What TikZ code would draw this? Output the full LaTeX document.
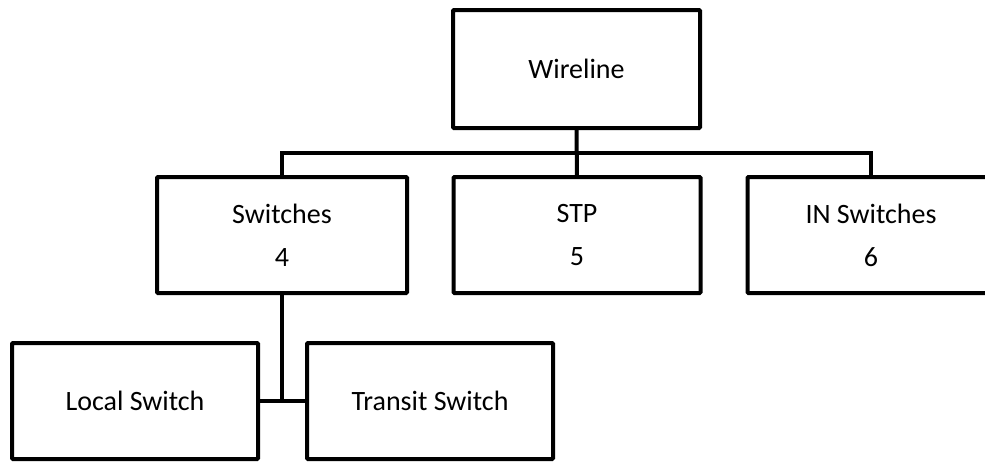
\documentclass[tikz,border=0pt]{standalone}
\usepackage{fontspec}
\setmainfont{Carlito}
\begin{document}
\begin{tikzpicture}[x=1pt,y=1pt,
  orgbox/.style={draw=black, line width=4pt, rounded corners=1pt, fill=white,
    minimum width=247pt, minimum height=116pt, inner sep=0pt, outer sep=0pt,
    align=center, font=\fontsize{28}{43}\selectfont},
  link/.style={draw=black, line width=4pt}]
\useasboundingbox (0,0) rectangle (985,-464);
% top level
\node[orgbox, minimum height=118pt] (wire) at (576.5,-69) {Wireline};
% second level
\node[orgbox, minimum width=250pt] (sw) at (282,-235) {Switches\\4};
\node[orgbox] (stp) at (577,-235) {STP\\5};
\node[orgbox] (insw) at (871,-235) {IN Switches\\6};
% third level
\node[orgbox, minimum width=246pt] (loc) at (135,-401) {Local Switch};
\node[orgbox, minimum width=246pt] (tr) at (430,-401) {Transit Switch};
% bus joining the second level
\coordinate (bus) at (0,-153);
\draw[link] (wire.south) -- (stp.north);
\draw[link] (sw.north) -- (sw.north |- bus) -- (insw.north |- bus) -- (insw.north);
% branch below Switches
\draw[link] (sw.south) -- (sw.south |- loc.east);
\draw[link] (loc.east) -- (tr.west);
\end{tikzpicture}
\end{document}
